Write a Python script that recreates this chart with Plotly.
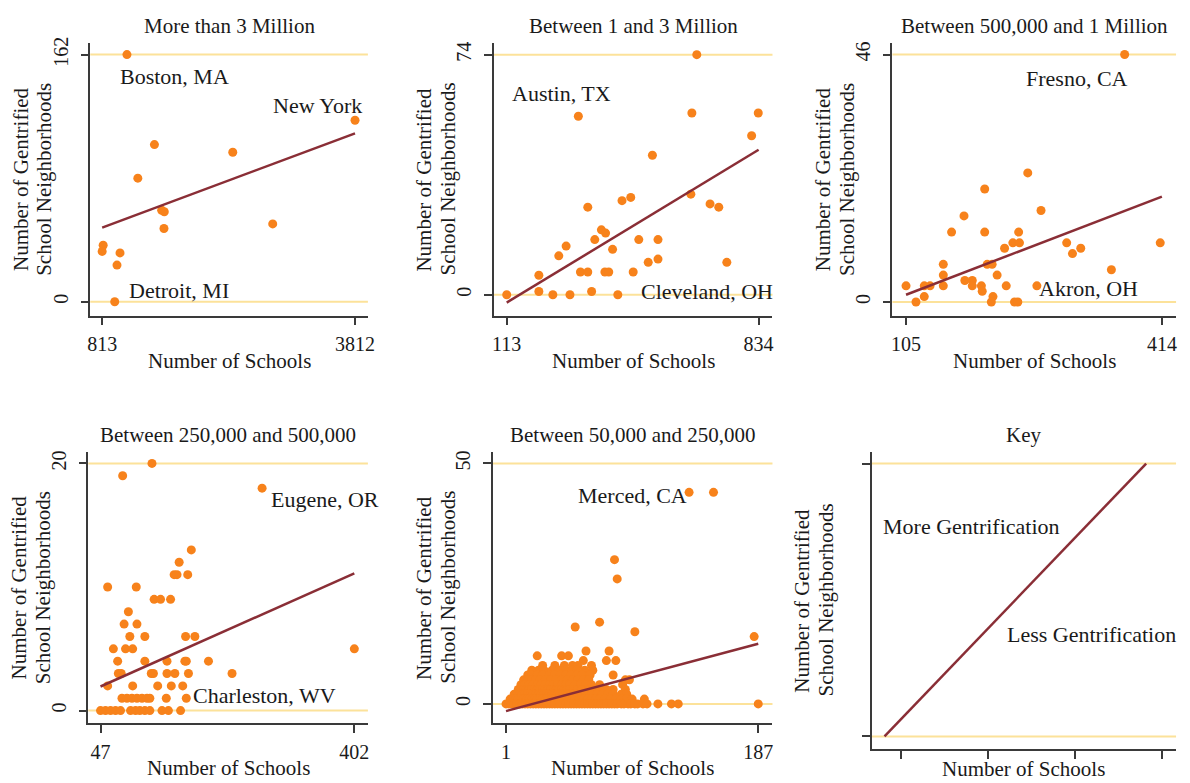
import plotly.graph_objects as go

# ---------------- DATA ----------------
panel_titles = ["More than 3 Million", "Between 1 and 3 Million", "Between 500,000 and 1 Million",
                "Between 250,000 and 500,000", "Between 50,000 and 250,000", "Key"]

# Panel 1: More than 3 Million
p1_x = [1107, 3812, 1433, 2362, 1236, 1519, 1550, 1546, 2836, 825, 813, 1025, 989, 962]
p1_y = [162, 119, 103, 98, 81, 60, 59, 48, 51, 37, 33, 32, 24, 0]
p1_fit_x = [813, 3812]
p1_fit_y = [48.6, 110.4]
p1_xticks = [813, 3812]
p1_yticks = [0, 162]

# Panel 2: Between 1 and 3 Million
p2_x = [657, 318, 643, 833, 814, 530, 443, 468, 345, 640, 695, 720, 384, 396, 365, 416, 491, 546,
        283, 262, 518, 546, 743, 324, 345, 394, 405, 475, 205, 205, 356, 113, 245, 294, 431]
p2_y = [74, 55, 56, 56, 49, 43, 29, 30, 27, 31, 28, 27, 20, 19, 17, 14, 17, 17,
        15, 12, 10, 11, 10, 7, 7, 7, 7, 7, 6, 1, 1, 0, 0, 0, 0]
p2_fit_x = [113, 834]
p2_fit_y = [-2.4, 44.7]
p2_xticks = [113, 834]
p2_yticks = [0, 74]

# Panel 3: Between 500,000 and 1 Million
p3_x = [369, 252, 200, 268, 175, 160, 200, 241, 234, 242, 299, 412, 224, 316, 306, 203, 209, 150,
        150, 215, 353, 176, 185, 105, 127, 134, 150, 185, 196, 226, 263, 197, 127, 210, 117, 208, 236, 240]
p3_y = [46, 24, 21, 17, 16, 13, 13, 13, 11, 11, 11, 11, 10, 10, 9, 7, 7, 7,
        5, 5, 6, 4, 4, 3, 3, 3, 3, 3, 3, 3, 3, 2, 1, 1, 0, 0, 0, 0]
p3_fit_x = [105, 414]
p3_fit_y = [1.35, 19.6]
p3_xticks = [105, 414]
p3_yticks = [0, 46]

# Panel 4: Between 250,000 and 500,000
p4_x = [119, 78, 273, 174, 157, 150, 154, 169, 57, 97, 122, 131, 145, 86, 80, 98, 88, 109, 166, 179,
        65, 82, 92, 402, 71, 109, 140, 165, 167, 198, 72, 76, 118, 121, 140, 151, 170, 231,
        57, 92, 127, 146, 162, 77, 84, 91, 98, 105, 112, 116, 139, 167,
        47, 54, 61, 68, 75, 89, 96, 102, 109, 116, 133, 142, 159]
p4_y = [20, 19, 18, 13, 12, 11, 11, 11, 10, 10, 9, 9, 9, 8, 7, 7, 6, 6, 6, 6,
        5, 5, 5, 5, 4, 4, 4, 4, 4, 4, 3, 3, 3, 3, 3, 3, 3, 3,
        2, 2, 2, 2, 2, 1, 1, 1, 1, 1, 1, 1, 1, 1,
        0, 0, 0, 0, 0, 0, 0, 0, 0, 0, 0, 0, 0]
p4_fit_x = [47, 402]
p4_fit_y = [1.95, 11.1]
p4_xticks = [47, 402]
p4_yticks = [0, 20]

# Panel 5: Between 50,000 and 250,000
p5_x = [136, 154, 81, 83, 70, 52, 96, 184, 187,
        24, 42, 47, 60, 77, 58, 75, 82,
        28, 37, 44, 50, 54, 64,
        20, 25, 29, 35, 40, 45, 50, 53, 59, 65,
        17, 20, 24, 28, 33, 37, 41, 45, 49, 53, 57, 63, 80,
        14, 17, 20, 23, 26, 30, 34, 38, 42, 46, 50, 54, 58, 62, 89, 92,
        12, 15, 18, 21, 24, 27, 30, 33, 36, 39, 42, 45, 48, 52, 56, 60, 64, 70, 87,
        10, 12, 14, 16, 18, 20, 22, 24, 26, 28, 30, 32, 34, 36, 38, 40, 42, 44, 46, 48, 51, 54, 57, 62, 66, 70, 75, 80, 89,
        7, 9, 11, 13, 15, 17, 19, 21, 23, 25, 27, 29, 31, 33, 35, 37, 39, 41, 43, 45, 47, 49, 51, 53, 56, 60, 64, 68, 72, 76, 80, 86, 90,
        4, 6, 8, 10, 12, 14, 16, 18, 20, 22, 24, 26, 28, 30, 32, 34, 36, 38, 40, 42, 44, 46, 48, 50, 52, 55, 58, 61, 64, 67, 70, 74, 78, 82, 86, 90, 94, 103,
        1, 3, 5, 7, 9, 11, 13, 15, 17, 19, 21, 23, 25, 27, 29, 31, 33, 35, 37, 39, 41, 43, 45, 47, 49, 51, 53, 55, 57, 59, 61, 63, 65, 67, 69, 71, 73, 75, 77, 79, 81, 83, 86, 88, 91, 93, 96, 98, 102, 105, 113, 123, 128]
p5_y = [44, 44, 30, 26, 17, 16, 15, 14, 0,
        10, 10, 10, 11, 11, 9, 9, 9,
        8, 8, 8, 8, 8, 8,
        7, 7, 7, 7, 7, 7, 7, 7, 7, 7,
        6, 6, 6, 6, 6, 6, 6, 6, 6, 6, 6, 6, 6,
        5, 5, 5, 5, 5, 5, 5, 5, 5, 5, 5, 5, 5, 5, 5, 5,
        4, 4, 4, 4, 4, 4, 4, 4, 4, 4, 4, 4, 4, 4, 4, 4, 4, 4, 4,
        3, 3, 3, 3, 3, 3, 3, 3, 3, 3, 3, 3, 3, 3, 3, 3, 3, 3, 3, 3, 3, 3, 3, 3, 3, 3, 3, 3, 3,
        2, 2, 2, 2, 2, 2, 2, 2, 2, 2, 2, 2, 2, 2, 2, 2, 2, 2, 2, 2, 2, 2, 2, 2, 2, 2, 2, 2, 2, 2, 2, 2, 2,
        1, 1, 1, 1, 1, 1, 1, 1, 1, 1, 1, 1, 1, 1, 1, 1, 1, 1, 1, 1, 1, 1, 1, 1, 1, 1, 1, 1, 1, 1, 1, 1, 1, 1, 1, 1, 1, 1,
        0, 0, 0, 0, 0, 0, 0, 0, 0, 0, 0, 0, 0, 0, 0, 0, 0, 0, 0, 0, 0, 0, 0, 0, 0, 0, 0, 0, 0, 0, 0, 0, 0, 0, 0, 0, 0, 0, 0, 0, 0, 0, 0, 0, 0, 0, 0, 0, 0, 0, 0, 0, 0]
p5_fit_x = [1, 187]
p5_fit_y = [-1.5, 12.5]
p5_xticks = [1, 187]
p5_yticks = [0, 50]

# Panel 6: Key
p6_fit_x = [0.806, 3.816]
p6_fit_y = [0, 1]
p6_xticks = [1, 2, 3, 4]
p6_yticks = [0, 1]

# City / key labels: (text, x, y)
p1_labels = [("Boston, MA", 1671, 147.7), ("New York", 3365, 128.8), ("Detroit, MI", 1719, 7.2)]
p2_labels = [("Austin, TX", 269, 62), ("Cleveland, OH", 687, 1.1)]
p3_labels = [("Fresno, CA", 312, 41.5), ("Akron, OH", 325.5, 2.6)]
p4_labels = [("Eugene, OR", 361, 17.05), ("Charleston, WV", 276, 1.2)]
p5_labels = [("Merced, CA", 94.4, 43.3)]
p6_labels = [("More Gentrification", 1.806, 0.771), ("Less Gentrification", 3.19, 0.373)]

x_title = "Number of Schools"
y_title_lines = ["Number of Gentrified", "School Neighborhoods"]

# ---------------- LAYOUT / STYLE ----------------
W, H = 1190, 783
FONT = "Liberation Serif"
FS = 21
ORANGE = "#F7821B"
YELLOW = "#FCE29A"
MAROON = "#8A2E36"
AXIS = "#3a3a3a"
TXT = "#1a1a1a"

# pixel boxes: (left, right, top, bottom), axis ranges, x-title position
panels = [
    dict(x=p1_x, y=p1_y, fx=p1_fit_x, fy=p1_fit_y, xt=p1_xticks, yt=p1_yticks, lab=p1_labels,
         box=(88, 368, 37, 312), xr=[671.9, 3964.9], yr=[-9.1, 169.8], ticklabels=True, xtpos=358),
    dict(x=p2_x, y=p2_y, fx=p2_fit_x, fy=p2_fit_y, xt=p2_xticks, yt=p2_yticks, lab=p2_labels,
         box=(495, 776, 37, 312), xr=[76.1, 873.7], yr=[-6.42, 77.67], ticklabels=True, xtpos=358),
    dict(x=p3_x, y=p3_y, fx=p3_fit_x, fy=p3_fit_y, xt=p3_xticks, yt=p3_yticks, lab=p3_labels,
         box=(897, 1183, 37, 312), xr=[88.6, 431.1], yr=[-2.53, 48.2], ticklabels=True, xtpos=358),
    dict(x=p4_x, y=p4_y, fx=p4_fit_x, fy=p4_fit_y, xt=p4_xticks, yt=p4_yticks, lab=p4_labels,
         box=(86, 368, 449, 723), xr=[29.9, 421.0], yr=[-1.04, 20.96], ticklabels=True, xtpos=768),
    dict(x=p5_x, y=p5_y, fx=p5_fit_x, fy=p5_fit_y, xt=p5_xticks, yt=p5_yticks, lab=p5_labels,
         box=(494, 776, 449, 723), xr=[-8.72, 197.5], yr=[-4.07, 52.48], ticklabels=True, xtpos=768),
    dict(x=[], y=[], fx=p6_fit_x, fy=p6_fit_y, xt=p6_xticks, yt=p6_yticks, lab=p6_labels,
         box=(876, 1183, 449, 749), xr=[0.658, 4.16], yr=[-0.047, 1.044], ticklabels=False, xtpos=769),
]

fig = go.Figure()
annotations = []
shapes = []
layout_axes = {}

for i, p in enumerate(panels, start=1):
    xa = "x" if i == 1 else f"x{i}"
    ya = "y" if i == 1 else f"y{i}"
    L, R, T, B = p["box"]
    xdom = [L / W, R / W]
    ydom = [1 - B / H, 1 - T / H]

    common = dict(showline=True, linecolor=AXIS, linewidth=1.5, ticks="outside", ticklen=8,
                  tickwidth=1.5, tickcolor=AXIS, showgrid=False, zeroline=False,
                  tickfont=dict(family=FONT, size=20, color=TXT), showticklabels=p["ticklabels"],
                  fixedrange=True)
    layout_axes["xaxis" if i == 1 else f"xaxis{i}"] = dict(
        domain=xdom, range=p["xr"], anchor=ya, tickmode="array", tickvals=p["xt"],
        ticktext=[str(v) for v in p["xt"]], ticklabelstandoff=2, **common)
    layout_axes["yaxis" if i == 1 else f"yaxis{i}"] = dict(
        domain=ydom, range=p["yr"], anchor=xa, tickmode="array", tickvals=p["yt"],
        ticktext=[str(v) for v in p["yt"]], tickangle=-90, ticklabelstandoff=5, **common)

    # yellow reference lines at min and max y ticks
    for yv in (p["yt"][0], p["yt"][-1]):
        shapes.append(dict(type="line", xref=f"{xa} domain", yref=ya, x0=0, x1=1, y0=yv, y1=yv,
                           line=dict(color=YELLOW, width=2), layer="below"))

    if p["x"]:
        fig.add_trace(go.Scatter(x=p["x"], y=p["y"], mode="markers", xaxis=xa, yaxis=ya,
                                 marker=dict(color=ORANGE, size=9, line=dict(width=0)),
                                 showlegend=False, hoverinfo="skip"))
    fig.add_trace(go.Scatter(x=p["fx"], y=p["fy"], mode="lines", xaxis=xa, yaxis=ya,
                             line=dict(color=MAROON, width=2.5), showlegend=False, hoverinfo="skip"))

    for txt, lx, ly in p["lab"]:
        annotations.append(dict(text=txt, x=lx, y=ly, xref=xa, yref=ya, showarrow=False,
                                xanchor="center", yanchor="middle",
                                font=dict(family=FONT, size=22, color=TXT)))

    cx = (L + R) / 2
    # panel title
    annotations.append(dict(text=panel_titles[i - 1], x=cx / W, y=1 - (T - 17) / H, xref="paper",
                            yref="paper", showarrow=False, xanchor="center", yanchor="middle",
                            font=dict(family=FONT, size=FS, color=TXT)))
    # x axis title
    annotations.append(dict(text=x_title, x=cx / W, y=1 - p["xtpos"] / H, xref="paper", yref="paper",
                            showarrow=False, xanchor="center", yanchor="middle",
                            font=dict(family=FONT, size=FS, color=TXT)))
    # y axis title (two lines)
    for k, line_txt in enumerate(y_title_lines):
        annotations.append(dict(text=line_txt, x=(L - 70 + 24 * k) / W, y=1 - ((T + B) / 2) / H,
                                xref="paper", yref="paper", showarrow=False, xanchor="center",
                                yanchor="middle", textangle=-90,
                                font=dict(family=FONT, size=FS, color=TXT)))

fig.update_layout(width=W, height=H, margin=dict(l=0, r=0, t=0, b=0),
                  paper_bgcolor="white", plot_bgcolor="white",
                  annotations=annotations, shapes=shapes, showlegend=False, **layout_axes)

fig.write_html("out.html", config={"displayModeBar": False},
               post_script="document.body.style.margin='0px';document.body.style.padding='0px';")
